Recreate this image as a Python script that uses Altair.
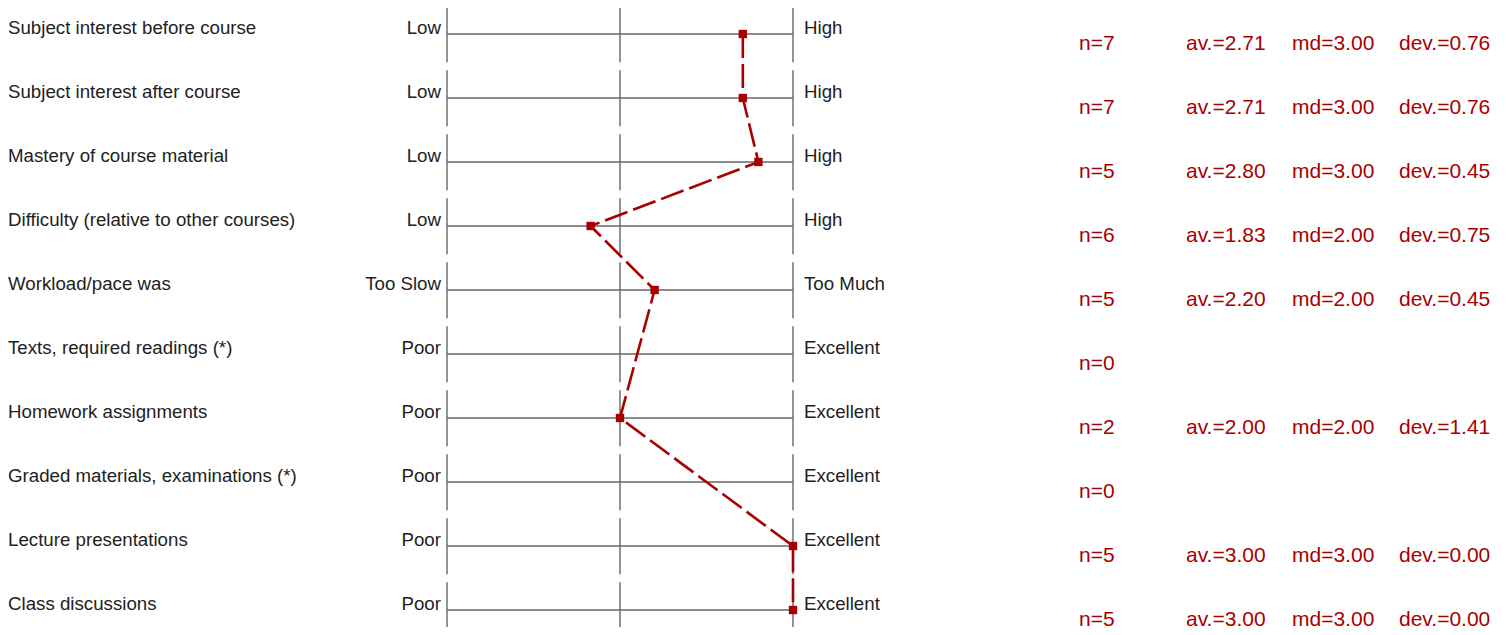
import altair as alt
import pandas as pd

# ---- data ----
items = [
    "Subject interest before course",
    "Subject interest after course",
    "Mastery of course material",
    "Difficulty (relative to other courses)",
    "Workload/pace was",
    "Texts, required readings (*)",
    "Homework assignments",
    "Graded materials, examinations (*)",
    "Lecture presentations",
    "Class discussions",
]
left_pole = ["Low", "Low", "Low", "Low", "Too Slow", "Poor", "Poor", "Poor", "Poor", "Poor"]
right_pole = ["High", "High", "High", "High", "Too Much", "Excellent", "Excellent",
              "Excellent", "Excellent", "Excellent"]
n_vals = [7, 7, 5, 6, 5, 0, 2, 0, 5, 5]
av_vals = [2.71, 2.71, 2.80, 1.83, 2.20, None, 2.00, None, 3.00, 3.00]
md_vals = [3.00, 3.00, 3.00, 2.00, 2.00, None, 2.00, None, 3.00, 3.00]
dev_vals = [0.76, 0.76, 0.45, 0.75, 0.45, None, 1.41, None, 0.00, 0.00]
scale_points = [1, 2, 3]

RED = "#a80000"
GREY = "#666666"
TXT = "#222222"
FONT = "Liberation Sans"

W, H = 1492, 619
PX_PER_ROW = 64
ROW0 = 26  # pixel of first row line inside the view

rows = list(range(len(items)))
df = pd.DataFrame({
    "row": rows,
    "item": items,
    "lo": left_pole,
    "hi": right_pole,
    "n": n_vals,
    "av": av_vals,
    "md": md_vals,
    "dev": dev_vals,
    "smin": [min(scale_points)] * len(items),
    "smax": [max(scale_points)] * len(items),
})
df["n_txt"] = ["n=%d" % v for v in n_vals]
df["av_txt"] = ["" if v is None or pd.isna(v) else "av.=%.2f" % v for v in av_vals]
df["md_txt"] = ["" if v is None or pd.isna(v) else "md=%.2f" % v for v in md_vals]
df["dev_txt"] = ["" if v is None or pd.isna(v) else "dev.=%.2f" % v for v in dev_vals]

# vertical tick segments (one per row per scale point)
seg = pd.DataFrame([{"row": r, "pt": p} for r in rows for p in scale_points])
seg["y1"] = seg["row"] - 0.435
seg["y2"] = seg["row"] + 0.44

# x scale: value 1 at pixel 439, 3 at pixel 785
px_per_unit = 173.0
x0 = 1 - 439 / px_per_unit
xscale = alt.Scale(domain=[x0, x0 + W / px_per_unit], nice=False, zero=False)
y0 = -ROW0 / PX_PER_ROW
yscale = alt.Scale(domain=[y0, y0 + H / PX_PER_ROW], nice=False, zero=False, reverse=True)

X = lambda f: alt.X(f, type="quantitative", scale=xscale, axis=None)
Y = lambda f: alt.Y(f, type="quantitative", scale=yscale, axis=None)

base = alt.Chart(df)

hlines = base.mark_rule(color=GREY, strokeWidth=1.4).encode(
    x=X("smin"), x2="smax", y=Y("row"))

vlines = alt.Chart(seg).mark_rule(color=GREY, strokeWidth=1.4).encode(
    x=X("pt"), y=Y("y1"), y2="y2")

valid = df[df["av"].notna()]
line = alt.Chart(valid).mark_line(color=RED, strokeWidth=2.6, strokeDash=[24, 6]).encode(
    x=X("av"), y=Y("row"), order=alt.Order("row:Q"))
pts = alt.Chart(valid).mark_square(color=RED, size=70, opacity=1).encode(
    x=X("av"), y=Y("row"))

LBL = 18.7
item_txt = base.mark_text(align="left", baseline="alphabetic", fontSize=LBL,
                          font=FONT, color=TXT).encode(
    x=alt.value(0), y=Y("row"), text="item")
lo_txt = base.mark_text(align="right", baseline="alphabetic", fontSize=LBL,
                        font=FONT, color=TXT, dx=-6).encode(
    x=X("smin"), y=Y("row"), text="lo")
hi_txt = base.mark_text(align="left", baseline="alphabetic", fontSize=LBL,
                        font=FONT, color=TXT, dx=11).encode(
    x=X("smax"), y=Y("row"), text="hi")

stat_layers = []
for field, xpix in [("n_txt", 1071), ("av_txt", 1178), ("md_txt", 1284), ("dev_txt", 1391)]:
    stat_layers.append(
        base.mark_text(align="left", baseline="alphabetic", fontSize=21, font=FONT,
                       color=RED, dy=16).encode(
            x=alt.value(xpix), y=Y("row"), text=field))

chart = alt.layer(
    hlines, vlines, line, pts, item_txt, lo_txt, hi_txt, *stat_layers
).properties(
    width=W, height=H, padding=0, autosize=alt.AutoSizeParams(type="none"),
    background="white"
).configure_view(stroke=None)

chart.save("out.html", embed_options={"renderer": "svg", "actions": False})
